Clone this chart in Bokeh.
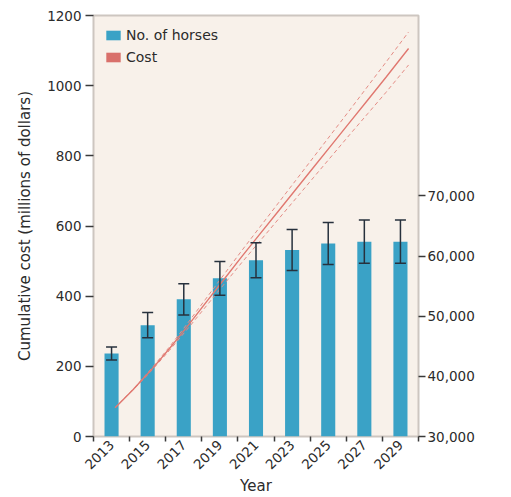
from math import pi

from bokeh.plotting import figure
from bokeh.models import (Range1d, LinearAxis, FixedTicker, NumeralTickFormatter,
                          ColumnDataSource, Whisker, TeeHead, Legend, LegendItem, Label)
from bokeh.embed import file_html
from bokeh.resources import INLINE

# Projected number of wild horses held in captivity (with error range)
years = [2013, 2015, 2017, 2019, 2021, 2023, 2025, 2027, 2029]
horses = [43800, 48500, 52800, 56300, 59300, 61000, 62100, 62400, 62400]
horses_err = [1100, 2100, 2600, 2800, 2900, 3400, 3500, 3600, 3600]

# Cumulative cost projection (millions of dollars) with confidence band
cost_years = [2013.2, 2014.2, 2015.2, 2016.2, 2017.2, 2018.2, 2019.2, 2020.2, 2021.2,
              2022.2, 2023.2, 2024.2, 2025.2, 2026.2, 2027.2, 2028.2, 2029.45]
cost = [82, 134, 190, 250, 314, 380, 446, 512, 576,
        640, 704, 768, 832, 896, 960, 1024, 1106]
cost_ci = [0, 1, 3, 5, 8, 11, 14, 17, 20, 23, 26, 29, 32, 35, 39, 43, 47]

cost_ticks = [0, 200, 400, 600, 800, 1000, 1200]
horse_ticks = [30000, 40000, 50000, 60000, 70000]
year_minor_ticks = [2012, 2014, 2016, 2018, 2020, 2022, 2024, 2026, 2028, 2030]

FONT = "DejaVu Sans"
TEXT = "#2b2b2b"
BLUE = "#3aa2c6"
RED = "#d9706b"

p = figure(width=511, height=497,
           x_range=Range1d(2012, 2030), y_range=Range1d(0, 1200),
           output_backend="svg", toolbar_location=None,
           min_border_left=93, min_border_right=93,
           min_border_top=15, min_border_bottom=60,
           background_fill_color="#f8f1ea", border_fill_color="white",
           outline_line_color="#cdc6c0", outline_line_width=2)
p.extra_y_ranges = {"horses": Range1d(30000, 100000)}
p.grid.visible = False

# x axis: labels at odd years, small ticks at even years
xa = p.xaxis[0]
xa.ticker = FixedTicker(ticks=years, minor_ticks=year_minor_ticks)
xa.major_tick_out = 0
xa.major_tick_in = 0
xa.minor_tick_out = 5
xa.minor_tick_in = 0
xa.minor_tick_line_color = "#3a3a3a"
xa.minor_tick_line_width = 1.5
xa.axis_line_color = None
xa.major_label_orientation = pi / 4
xa.major_label_standoff = 1
xa.axis_label = "Year"
xa.axis_label_standoff = 0

# left axis: cumulative cost
ya = p.yaxis[0]
ya.ticker = FixedTicker(ticks=cost_ticks)
ya.axis_line_color = None
ya.major_tick_out = 8
ya.major_tick_in = 0
ya.major_label_standoff = 4
ya.minor_tick_line_color = None
ya.axis_label = "Cumulative cost (millions of dollars)"
ya.axis_label_standoff = 10

# right axis: number of horses
ra = LinearAxis(y_range_name="horses", ticker=FixedTicker(ticks=horse_ticks),
                formatter=NumeralTickFormatter(format="0,0"),
                bounds=(horse_ticks[0], horse_ticks[-1]))
ra.axis_line_color = None
ra.major_tick_out = 7
ra.major_tick_in = 0
ra.major_label_standoff = 2
ra.minor_tick_line_color = None
p.add_layout(ra, "right")

for ax in (xa, ya, ra):
    ax.major_tick_line_color = "#3a3a3a"
    ax.major_tick_line_width = 1.5
    ax.major_label_text_font = FONT
    ax.major_label_text_font_size = "13.5px"
    ax.major_label_text_color = TEXT
    ax.axis_label_text_font = FONT
    ax.axis_label_text_font_size = "15px"
    ax.axis_label_text_font_style = "normal"
    ax.axis_label_text_color = TEXT

src = ColumnDataSource(dict(
    year=years,
    horses=horses,
    upper=[h + e for h, e in zip(horses, horses_err)],
    lower=[h - e for h, e in zip(horses, horses_err)],
))

bars = p.vbar(x="year", top="horses", bottom=30000, width=0.78, source=src,
              y_range_name="horses", fill_color=BLUE, line_color=None)

# cost projection and its confidence limits
upper = [c + d for c, d in zip(cost, cost_ci)]
lower = [c - d for c, d in zip(cost, cost_ci)]
p.line(cost_years, upper, line_color="#e48c85", line_width=1, line_dash="4 3")
p.line(cost_years, lower, line_color="#e48c85", line_width=1, line_dash="4 3")
p.line(cost_years, cost, line_color="#e07870", line_width=1.4)

err_color = "#27313d"
whisker = Whisker(source=src, base="year", upper="upper", lower="lower",
                  y_range_name="horses", level="overlay",
                  line_color=err_color, line_width=1.5,
                  upper_head=TeeHead(size=11, line_color=err_color, line_width=1.5),
                  lower_head=TeeHead(size=11, line_color=err_color, line_width=1.5))
p.add_layout(whisker)

# square key for the cost series (no visible mark in the frame)
cost_key = p.vbar(x=[float("nan")], top=[float("nan")], width=0.7,
                  fill_color=RED, line_color=None)

legend = Legend(items=[LegendItem(label="No. of horses", renderers=[bars]),
                       LegendItem(label="Cost", renderers=[cost_key])],
                location="top_left",
                background_fill_alpha=0, border_line_color=None,
                glyph_width=18, glyph_height=12, label_standoff=4,
                label_height=17, spacing=5, padding=7, margin=11,
                label_text_font=FONT, label_text_font_size="14px",
                label_text_color=TEXT)
p.add_layout(legend)

right_title = Label(x=2030, y=50000, y_range_name="horses", x_offset=77,
                    text="No. of horses in captivity", angle=pi / 2,
                    text_align="center", text_baseline="middle",
                    text_font=FONT, text_font_size="15px", text_color=TEXT)
p.add_layout(right_title)

open("out.html", "w").write(file_html(p, INLINE))
